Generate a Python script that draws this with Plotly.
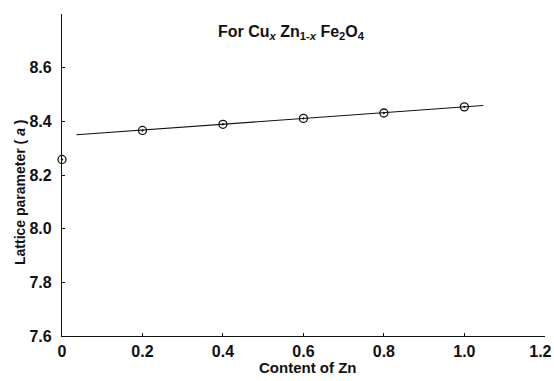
import plotly.graph_objects as go

# Data
zn_content = [0.0, 0.2, 0.4, 0.6, 0.8, 1.0]
lattice_a = [8.258, 8.366, 8.389, 8.411, 8.431, 8.454]
fit_x = [0.036, 1.047]
fit_y = [8.350, 8.459]
x_ticks = [0, 0.2, 0.4, 0.6, 0.8, 1.0, 1.2]
x_tick_text = ["0", "0.2", "0.4", "0.6", "0.8", "1.0", "1.2\u00a0\u00a0"]
y_ticks = [7.6, 7.8, 8.0, 8.2, 8.4, 8.6]
y_tick_text = ["7.6", "7.8", "8.0", "8.2", "8.4", "8.6"]

FONT = "Liberation Sans Narrow, Liberation Sans, Arial, sans-serif"

fig = go.Figure()
fig.add_trace(go.Scatter(x=fit_x, y=fit_y, mode="lines",
                         line=dict(color="#111", width=1.2), showlegend=False))
fig.add_trace(go.Scatter(x=zn_content, y=lattice_a, mode="markers",
                         marker=dict(symbol="circle-open-dot", size=8, color="#111",
                                     line=dict(width=1.3, color="#111")),
                         cliponaxis=False, showlegend=False))

fig.update_layout(
    width=554, height=381,
    margin=dict(l=62, r=9, t=14, b=45, autoexpand=False),
    paper_bgcolor="white", plot_bgcolor="white",
    font=dict(family=FONT, size=16, color="#111"),
    xaxis=dict(range=[0, 1.2004], tickvals=x_ticks,
               ticktext=["<b>%s</b>" % t for t in x_tick_text], automargin=False,
               showline=True, linecolor="#111", linewidth=1.3, showgrid=False,
               zeroline=False, ticks="inside", ticklen=3, tickcolor="#111",
               ticklabelstandoff=1, ticklabeloverflow="allow",
               tickfont=dict(family=FONT, size=16, color="#111")),
    yaxis=dict(range=[7.6, 8.80], tickvals=y_ticks,
               ticktext=["<b>%s</b>" % t for t in y_tick_text], automargin=False,
               showline=True, linecolor="#111", linewidth=1.3, showgrid=False,
               zeroline=False, ticks="inside", ticklen=3, tickcolor="#111",
               ticklabelstandoff=6, ticklabeloverflow="allow",
               tickfont=dict(family=FONT, size=16, color="#111")),
    annotations=[
        dict(text="<b>For Cu<sub><i>x</i></sub> Zn<sub>1-<i>x</i></sub> Fe<sub>2</sub>O<sub>4</sub></b>",
             xref="paper", yref="paper", x=(291-62)/483, y=(336-32)/322,
             showarrow=False, xanchor="center", yanchor="middle",
             font=dict(family=FONT, size=16, color="#111")),
        dict(text="<b>Content of Zn</b>", xref="paper", yref="paper",
             x=(307-62)/483, y=(336-367)/322, showarrow=False,
             xanchor="center", yanchor="middle",
             font=dict(family=FONT, size=15, color="#111")),
        dict(text="<b>Lattice parameter ( <i>a</i> )</b>", xref="paper", yref="paper",
             x=(20-62)/483, y=(336-192)/322, showarrow=False, textangle=-90,
             xanchor="center", yanchor="middle",
             font=dict(family=FONT, size=14, color="#111")),
    ],
)

# remove the page's default 8px body margin so the figure fills the window
fig.write_html("out.html", config={"displayModeBar": False},
               post_script="document.body.style.margin='0';document.body.style.overflow='hidden';")
